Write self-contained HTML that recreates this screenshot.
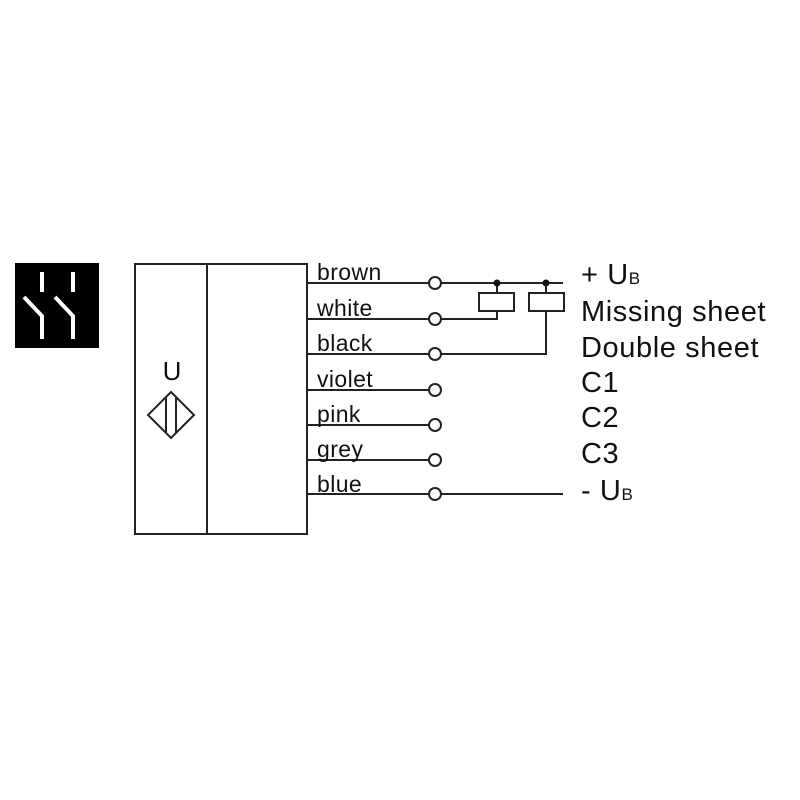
<!DOCTYPE html>
<html><head><style>
body{margin:0;background:#fff;width:800px;height:800px;overflow:hidden}
svg{display:block}
text{font-family:"Liberation Sans",sans-serif;fill:#111}
</style></head><body>
<svg width="800" height="800" viewBox="0 0 800 800">
<rect x="15" y="263" width="84" height="85" fill="#000"/>
<g stroke="#fff" stroke-width="4" fill="none">
<line x1="42" y1="272" x2="42" y2="292"/>
<polyline points="24,297 42,316 42,339"/>
<line x1="73" y1="272" x2="73" y2="292"/>
<polyline points="55,297 73,316 73,339"/>
</g>
<g stroke="#222" stroke-width="2" fill="none">
<rect x="135" y="264" width="172" height="270"/>
<line x1="207" y1="264" x2="207" y2="534"/>
<polygon points="171,392 194,415 171,438 148,415"/>
<line x1="166" y1="398" x2="166" y2="433"/>
<line x1="176" y1="398" x2="176" y2="433"/>
<line x1="307" y1="283" x2="429" y2="283"/><line x1="441" y1="283" x2="563" y2="283"/>
<line x1="307" y1="319" x2="429" y2="319"/><polyline points="441,319 497,319 497,311"/>
<line x1="307" y1="354" x2="429" y2="354"/><polyline points="441,354 546,354 546,311"/>
<line x1="307" y1="390" x2="429" y2="390"/>
<line x1="307" y1="425" x2="429" y2="425"/>
<line x1="307" y1="460" x2="429" y2="460"/>
<line x1="307" y1="494" x2="429" y2="494"/><line x1="441" y1="494" x2="563" y2="494"/>
<circle cx="435" cy="283" r="6"/><circle cx="435" cy="319" r="6"/><circle cx="435" cy="354" r="6"/>
<circle cx="435" cy="390" r="6"/><circle cx="435" cy="425" r="6"/><circle cx="435" cy="460" r="6"/>
<circle cx="435" cy="494" r="6"/>
<rect x="479" y="293" width="35" height="18"/>
<rect x="529" y="293" width="35" height="18"/>
<line x1="497" y1="283" x2="497" y2="293"/>
<line x1="546" y1="283" x2="546" y2="293"/>
</g>
<circle cx="497" cy="283" r="3.5" fill="#111"/>
<circle cx="546" cy="283" r="3.5" fill="#111"/>
<text x="172" y="380" font-size="26" text-anchor="middle">U</text>
<g font-size="23" letter-spacing="0.4">
<text x="317" y="280">brown</text>
<text x="317" y="316">white</text>
<text x="317" y="351">black</text>
<text x="317" y="387">violet</text>
<text x="317" y="422">pink</text>
<text x="317" y="457">grey</text>
<text x="317" y="492">blue</text>
</g>
<g font-size="29" letter-spacing="0.6">
<text x="581" y="284">+ U<tspan font-size="17">B</tspan></text>
<text x="581" y="321">Missing sheet</text>
<text x="581" y="357">Double sheet</text>
<text x="581" y="392">C1</text>
<text x="581" y="427">C2</text>
<text x="581" y="463">C3</text>
<text x="581" y="500">- U<tspan font-size="17">B</tspan></text>
</g>
</svg>
</body></html>
